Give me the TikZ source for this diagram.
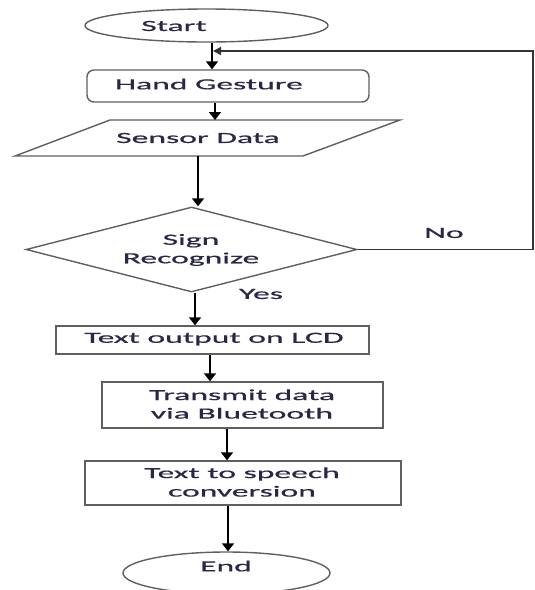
\documentclass[tikz,border=0pt]{standalone}
\usepackage{fontspec}
\setmainfont{Carlito}
\newfontfamily\widefont[FakeStretch=2.17,FakeBold=0.6]{Carlito}
\usetikzlibrary{shapes.geometric,arrows.meta}
\definecolor{outl}{RGB}{95,95,95}
\definecolor{txt}{RGB}{40,40,70}
\tikzset{
  shapeline/.style={draw=outl, line width=1.4pt},
  txtnode/.style={inner sep=0pt, text=txt, font=\widefont\fontsize{15.5}{18.5}\selectfont, align=center},
  arr/.style={draw=black, line width=1.8pt, -{Triangle[length=8pt,width=12pt]}},
  fb/.style={draw=black!80, line width=1.3pt},
}
\begin{document}
\begin{tikzpicture}[x=1pt,y=-1pt]
\useasboundingbox (0,0) rectangle (535,590);
% shapes
\node[shapeline, ellipse, minimum width=243pt, minimum height=33pt, inner sep=0pt] (start) at (206.5,25.5) {};
\node[shapeline, rectangle, rounded corners=7pt, minimum width=282pt, minimum height=32pt, inner sep=0pt] (hand) at (228,86) {};
\coordinate (sTL) at (110,120);
\coordinate (sTR) at (400,120);
\coordinate (sBR) at (303,156);
\coordinate (sBL) at (15,156);
\draw[shapeline] (sTL) -- (sTR) -- (sBR) -- (sBL) -- cycle;
\coordinate (sTop) at (215,120);
\coordinate (sBot) at (198,156);
\node[shapeline, diamond, minimum width=331pt, minimum height=85pt, inner sep=0pt, aspect=3.9] (dec) at (191.5,249.5) {};
\node[shapeline, rectangle, minimum width=313pt, minimum height=28pt, inner sep=0pt] (lcd) at (212.5,340) {};
\node[shapeline, rectangle, minimum width=281pt, minimum height=46pt, inner sep=0pt] (bt) at (242.5,405) {};
\node[shapeline, rectangle, minimum width=316pt, minimum height=44pt, inner sep=0pt] (tts) at (243,483) {};
\node[shapeline, ellipse, minimum width=207pt, minimum height=42pt, inner sep=0pt] (end) at (226.5,573) {};
% texts
\node[txtnode] (tStart) at (174,26) {Start};
\node[txtnode] (tHand) at (209,84) {Hand Gesture};
\node[txtnode] (tSensor) at (198,138) {Sensor Data};
\node[txtnode] (tDec) at (191,250) {Sign\\Recognize};
\node[txtnode] (tLcd) at (214,339) {Text output on LCD};
\node[txtnode] (tBt) at (242,404) {Transmit data\\via Bluetooth};
\node[txtnode] (tTts) at (242,482) {Text to speech\\conversion};
\node[txtnode] (tEnd) at (226,566) {End};
\node[txtnode] (tNo) at (444,233) {No};
\node[txtnode] (tYes) at (261,294) {Yes};
% connectors
\draw[arr] (start.south -| 212,0) -- (hand.north -| 212,0);
\draw[arr] (hand.south -| sTop) -- (sTop);
\draw[arr] (sBot) -- (dec.north -| sBot);
\draw[arr] (dec.south -| 195,0) -- (lcd.north -| 195,0);
\draw[arr] (lcd.south -| 210,0) -- (bt.north -| 210,0);
\draw[arr] (bt.south -| 227,0) -- (tts.north -| 227,0);
\draw[arr] (tts.south -| 228,0) -- (end.north -| 228,0);
\coordinate (fbR) at (533,51);
\draw[fb, -{Triangle[length=8pt,width=8pt]}] (dec.east) -- (dec.east -| fbR) -- (fbR) -- (213,51);
\end{tikzpicture}
\end{document}
